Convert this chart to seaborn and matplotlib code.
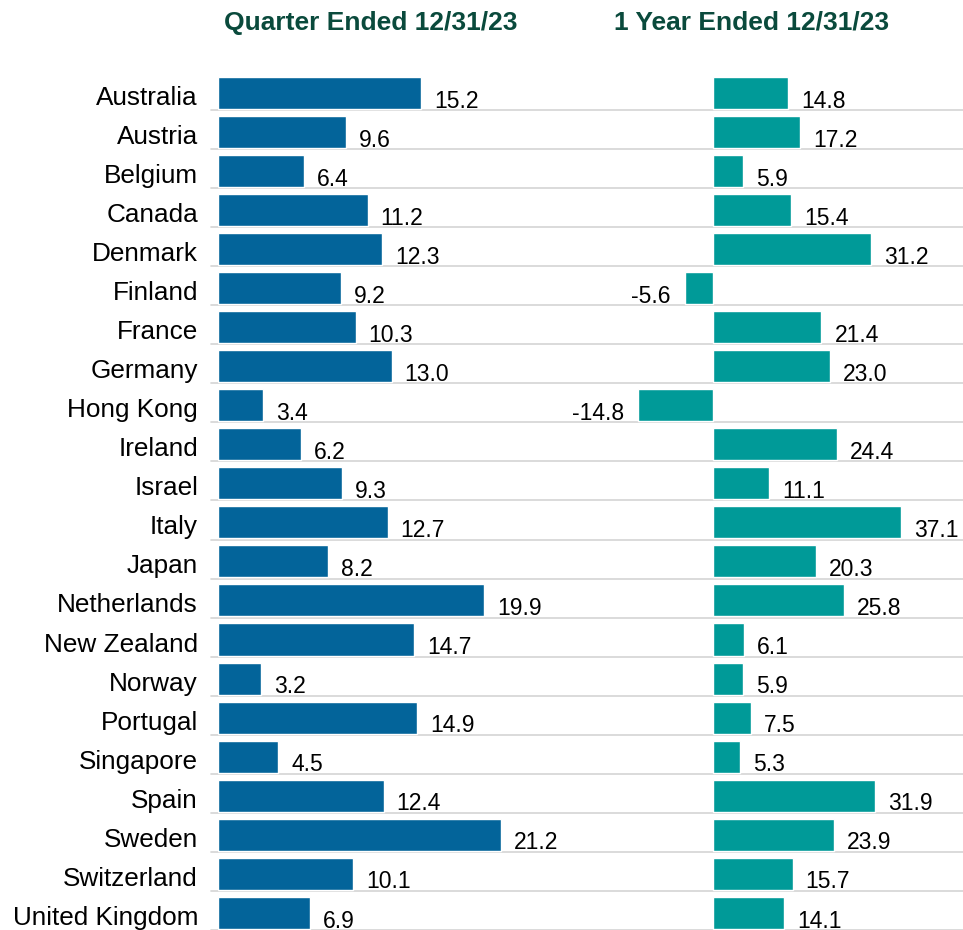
import pandas as pd
import numpy as np
import matplotlib
matplotlib.use('Agg')
import matplotlib.pyplot as plt
import matplotlib.transforms as mtransforms
from matplotlib.lines import Line2D
import seaborn as sns

# dados
paises = ['Australia', 'Austria', 'Belgium', 'Canada', 'Denmark', 'Finland', 'France',
          'Germany', 'Hong Kong', 'Ireland', 'Israel', 'Italy', 'Japan', 'Netherlands',
          'New Zealand', 'Norway', 'Portugal', 'Singapore', 'Spain', 'Sweden',
          'Switzerland', 'United Kingdom']
trimestre = [15.2, 9.6, 6.4, 11.2, 12.3, 9.2, 10.3, 13.0, 3.4, 6.2, 9.3, 12.7, 8.2, 19.9,
             14.7, 3.2, 14.9, 4.5, 12.4, 21.2, 10.1, 6.9]
um_ano = [14.8, 17.2, 5.9, 15.4, 31.2, -5.6, 21.4, 23.0, -14.8, 24.4, 11.1, 37.1, 20.3,
          25.8, 6.1, 5.9, 7.5, 5.3, 31.9, 23.9, 15.7, 14.1]
titulos = ['Quarter Ended 12/31/23', '1 Year Ended 12/31/23']

df = pd.DataFrame({'pais': paises, 'trimestre': trimestre, 'um_ano': um_ano})

sns.set_style('white')
plt.rcParams['font.family'] = ['Liberation Sans', 'DejaVu Sans']

W, H = 963, 930
fig = plt.figure(figsize=(W / 100, H / 100), dpi=100)

topo = 71
ax1 = fig.add_axes([218 / W, 0, (560 - 218) / W, (H - topo) / H])
ax2 = fig.add_axes([580 / W, 0, (W - 580) / W, (H - topo) / H])

azul = '#03649a'
verde = '#009a98'

sns.barplot(data=df, y='pais', x='trimestre', orient='h', color=azul,
            width=0.82, saturation=1, ax=ax1)
sns.barplot(data=df, y='pais', x='um_ano', orient='h', color=verde,
            width=0.82, saturation=1, ax=ax2)

ax1.set_xlim(0, (560 - 218) / 13.36)
ax2.set_xlim((580 - 713) / 5.07, (W - 713) / 5.07)

n = len(paises)
for ax in (ax1, ax2):
    ax.set_ylim(n - 0.56, -0.56)
    ax.set_xlabel('')
    ax.set_ylabel('')
    ax.set_xticks([])
    sns.despine(ax=ax, left=True, bottom=True)
    ax.patch.set_alpha(0)

ax1.tick_params(axis='y', length=0, pad=14.4, labelsize=18.8, labelcolor='black')
ax2.set_yticks([])

# desloca os nomes dos paises um pouco para baixo
desloc = mtransforms.ScaledTranslation(0, -2.5 / 100, fig.dpi_scale_trans)
for lbl in ax1.get_yticklabels():
    lbl.set_transform(lbl.get_transform() + desloc)

# rotulos dos valores
for ax, valores in ((ax1, trimestre), (ax2, um_ano)):
    for i, v in enumerate(valores):
        if v >= 0:
            ax.annotate(f'{v:.1f}', xy=(v, i), xytext=(9.4, -10.6), textcoords='offset points',
                        ha='left', va='baseline', fontsize=16.5, color='black')
        else:
            ax.annotate(f'{v:.1f}', xy=(v, i), xytext=(-9.8, -10.6), textcoords='offset points',
                        ha='right', va='baseline', fontsize=16.5, color='black')

# linhas separadoras entre as linhas
trans = mtransforms.blended_transform_factory(fig.transFigure, ax1.transData)
for i in range(n):
    fig.add_artist(Line2D([211 / W, 1], [i + 0.44, i + 0.44], transform=trans,
                          color='#d4d4d4', lw=1.2, zorder=0))

# titulos
fig.text(371 / W, 1 - 30 / H, titulos[0], ha='center', va='baseline',
         fontsize=19, fontweight='bold', color='#0a4a3c')
fig.text(752 / W, 1 - 30 / H, titulos[1], ha='center', va='baseline',
         fontsize=19, fontweight='bold', color='#0a4a3c')

fig.savefig('out.png', dpi=100)
